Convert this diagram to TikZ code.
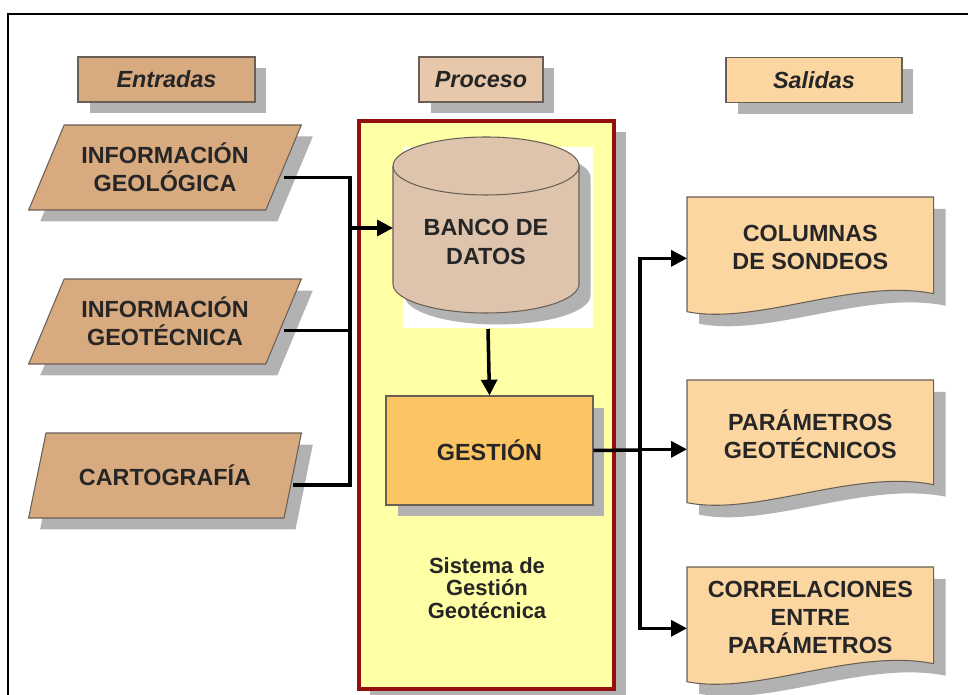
\documentclass[tikz,border=0pt]{standalone}
\usepackage{fontspec}
\setmainfont{Liberation Sans}
\usepackage{tikz}
\usetikzlibrary{shapes.geometric, arrows.meta, shadows, backgrounds}

\definecolor{entfill}{RGB}{216,170,128}
\definecolor{procfill}{RGB}{231,200,170}
\definecolor{salfill}{RGB}{252,214,160}
\definecolor{cylfill}{RGB}{222,196,172}
\definecolor{gestfill}{RGB}{252,196,98}
\definecolor{yellowbg}{RGB}{255,255,165}
\definecolor{borderred}{RGB}{150,15,15}
\definecolor{edgegray}{RGB}{105,95,85}
\definecolor{shadowgray}{RGB}{178,178,178}

\begin{document}
\begin{tikzpicture}[x=0.02cm, y=-0.02cm, >={Triangle[length=9pt,width=9pt]},
  txt/.style={font=\fontsize{13.3}{16}\selectfont\bfseries, text=black!85, align=center},
  dshadow/.style={drop shadow={shadow xshift=0.23cm, shadow yshift=-0.23cm, fill=shadowgray, opacity=1}},
  headbox/.style={txt, font=\fontsize{13.3}{16}\selectfont\bfseries\itshape, draw=edgegray, line width=0.6pt, fill=#1, minimum height=0.9cm, dshadow},
  entrada/.style={txt, trapezium, trapezium left angle=59, trapezium right angle=121, trapezium stretches=true,
    draw=edgegray, line width=0.6pt, fill=entfill, minimum width=5.46cm, minimum height=1.7cm, inner sep=0pt, dshadow},
  salida/.style={txt, minimum width=4.92cm, inner sep=0pt, anchor=north west},
  docbox/.style={draw=edgegray, line width=0.6pt, fill=salfill},
  flow/.style={line width=2pt}]
  \useasboundingbox (0,0) rectangle (968,695);

  % ---- Frame ----
  \draw[line width=1.5pt] (8,695) -- (8,14) -- (968,14);

  % ---- Column headers ----
  \node[headbox=entfill, minimum width=3.54cm] (hentradas) at (166.5,79.5) {Entradas};
  \node[headbox=procfill, minimum width=2.48cm] (hproceso) at (481,79.5) {Proceso};
  \node[headbox=salfill, minimum width=3.52cm] (hsalidas) at (814,80) {Salidas};

  % ---- Entradas ----
  \node[entrada] (geol) at (165,167.5) {INFORMACIÓN\\GEOLÓGICA};
  \node[entrada] (geot) at (165,321.5) {INFORMACIÓN\\GEOTÉCNICA};
  \node[entrada] (carto) at (165,475.5) {CARTOGRAFÍA};

  % ---- Proceso: system box ----
  \draw[draw=borderred, line width=2.2pt, fill=yellowbg, dshadow] (359,121) rectangle (614,689);
  \fill[white] (403,147) rectangle (593,328);

  % data bank (cylinder)
  \fill[cylfill, dshadow] (393,166) -- (393,284) arc[start angle=180, end angle=0, x radius=93, y radius=29]
    -- (579,166) arc[start angle=0, end angle=-180, x radius=93, y radius=29] -- cycle;
  \draw[edgegray, line width=0.6pt] (393,166) -- (393,284) arc[start angle=180, end angle=0, x radius=93, y radius=29] -- (579,166);
  \draw[edgegray, line width=0.6pt] (486,166) ellipse [x radius=93, y radius=29];
  \node[txt] (banco) at (486,242) {BANCO DE\\DATOS};
  \coordinate (bdin) at (393,228);
  \coordinate (bdout) at (488,329);

  \node[txt, draw=edgegray, line width=0.6pt, fill=gestfill, minimum width=4.14cm, minimum height=2.18cm, dshadow]
    (gest) at (489.5,450.5) {GESTIÓN};
  \node[txt, font=\fontsize{12.5}{13}\selectfont\bfseries] (sggtxt) at (487,588) {Sistema de\\Gestión\\Geotécnica};

  % ---- Salidas ----
  \node[salida, minimum height=2cm] (col) at (687,197) {COLUMNAS\\DE SONDEOS};
  \node[salida, minimum height=2.16cm] (par) at (687,380) {PARÁMETROS\\GEOTÉCNICOS};
  \node[salida, minimum height=2cm] (cor) at (687,567) {CORRELACIONES\\ENTRE\\PARÁMETROS};
  \begin{scope}[on background layer]
    \foreach \n in {col,par,cor} {
      \fill[shadowgray] ([shift={(12,12)}]\n.north west) -- ([shift={(12,12)}]\n.north east)
        -- ([shift={(12,8)}]\n.south east) .. controls ([shift={(-68,-8)}]\n.south east)
        and ([shift={(82,40)}]\n.south west) .. ([shift={(12,26)}]\n.south west) -- cycle;
      \draw[docbox] (\n.north west) -- (\n.north east) -- ([shift={(0,-4)}]\n.south east)
        .. controls ([shift={(-80,-20)}]\n.south east) and ([shift={(70,28)}]\n.south west)
        .. ([shift={(0,14)}]\n.south west) -- cycle;
    }
  \end{scope}

  % ---- Connectors ----
  \coordinate (busin) at (350,228);
  \draw[flow] ([yshift=-0.2cm]geol.east) -| (busin);
  \draw[flow] ([yshift=-0.18cm]geot.east) -| (busin);
  \draw[flow] ([yshift=-0.19cm]carto.east) -| (busin);
  \draw[flow,->] (busin) -- (bdin);
  \draw[flow,->] (bdout) -- (gest.north);

  \coordinate (busout) at (640,450);
  \draw[flow] (gest.east) -- (busout);
  \draw[flow,->] (busout) |- ([yshift=-0.22cm]col.west);
  \draw[flow,->] (busout) |- ([yshift=-0.3cm]par.west);
  \draw[flow,->] (busout) |- ([yshift=-0.22cm]cor.west);
\end{tikzpicture}
\end{document}
